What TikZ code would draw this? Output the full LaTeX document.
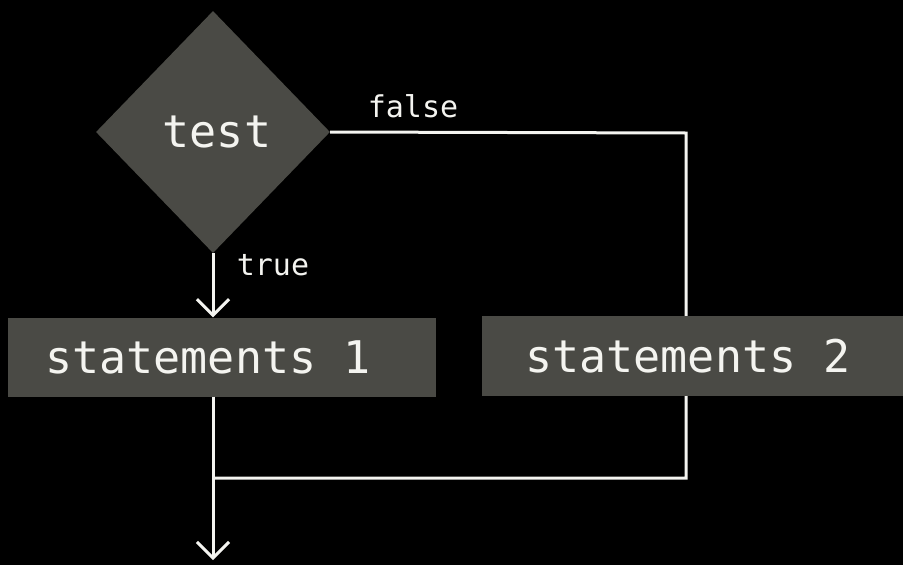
\documentclass[tikz,border=0pt]{standalone}
\usepackage{fontspec}
\setmonofont{DejaVu Sans Mono}
\usetikzlibrary{shapes.geometric, arrows.meta, backgrounds}

\definecolor{boxgray}{HTML}{4A4A45}
\definecolor{chalk}{HTML}{F4F4F0}

\tikzset{
  block/.style = {fill=boxgray, text=chalk, inner sep=0pt,
    font=\ttfamily\fontsize{45}{52}\selectfont},
  blocktext/.style = {text=chalk, inner sep=0pt,
    font=\ttfamily\fontsize{45}{52}\selectfont},
  flow/.style = {draw=chalk, line width=3pt},
  tip/.style = {-{Straight Barb[length=16pt, width=32pt, line width=3pt]}},
  lbl/.style = {text=chalk, font=\ttfamily\fontsize{30}{34}\selectfont}
}

\begin{document}
\begin{tikzpicture}[x=1pt, y=-1pt]
\useasboundingbox (0,0) rectangle (903,565);

% blocks
\node[block, diamond, minimum width=234pt, minimum height=242pt] (test) at (213,132) {};
\node[blocktext] (testtext) at (217,132) {test};
\node[block, minimum width=428pt, minimum height=79pt] (stmtA) at (222,357) {};
\node[blocktext] (stmtAtext) at (208,357) {statements 1};
\node[block, minimum width=421pt, minimum height=80pt] (stmtB) at (692,356) {};
\node[blocktext] (stmtBtext) at (688,356) {statements 2};

% labels
\node[lbl] (lblfalse) at (413,106) {false};
\node[lbl] (lbltrue) at (273,265) {true};

% corners of the lines
\coordinate (fcorner) at (686,133);
\coordinate (join) at (686,478);
\coordinate (merge) at (213,478);
\coordinate (out) at (213,560);

\begin{pgfonlayer}{background}
\fill[black] (0,0) rectangle (903,565);
\draw[flow] (test.east) -- (fcorner) -- (join) -- (merge);
\end{pgfonlayer}
\draw[flow, tip] (test.south) -- (test.south |- stmtA.north);
\draw[flow, tip] (merge |- stmtA.south) -- (out);
\end{tikzpicture}
\end{document}
